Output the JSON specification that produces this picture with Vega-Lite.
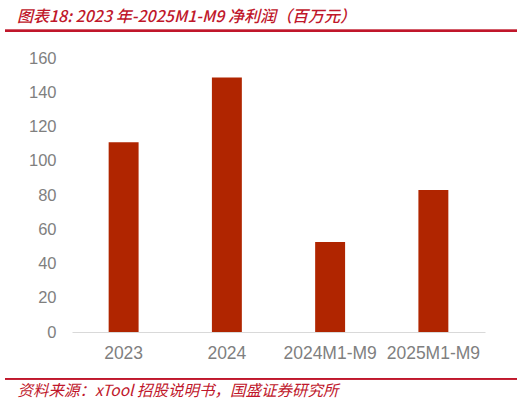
{
  "$schema": "https://vega.github.io/schema/vega-lite/v6.json",
  "width": 413,
  "height": 274,
  "autosize": "none",
  "padding": {"left": 72, "top": 58, "right": 47, "bottom": 72},
  "background": "white",
  "config": {"view": {"stroke": null}},
  "title": {
    "text": "图表18:  2023 年-2025M1-M9 净利润（百万元）",
    "anchor": "start",
    "frame": "group",
    "dx": -55,
    "offset": 5,
    "font": "Noto Sans CJK SC",
    "fontSize": 16,
    "fontStyle": "italic",
    "fontWeight": 500,
    "color": "#C0172B"
  },
  "data": {
    "values": [
      {"period": "2023", "profit": 110.8},
      {"period": "2024", "profit": 148.6},
      {"period": "2024M1-M9", "profit": 52.5},
      {"period": "2025M1-M9", "profit": 82.9}
    ]
  },
  "layer": [
    {
      "mark": {"type": "bar", "color": "#B02500", "width": {"band": 0.29}},
      "encoding": {
        "x": {
          "field": "period",
          "type": "nominal",
          "sort": null,
          "scale": {"paddingInner": 0, "paddingOuter": 0},
          "axis": {
            "labelAngle": 0,
            "labelFont": "Liberation Sans",
            "labelFontSize": 17.5,
            "labelColor": "#7F7F7F",
            "labelPadding": 12,
            "ticks": false,
            "domainColor": "#D9D9D9",
            "domainWidth": 1,
            "title": "资料来源：xTool 招股说明书，国盛证券研究所",
            "titleFont": "Noto Sans CJK SC",
            "titleFontSize": 15.5,
            "titleFontStyle": "italic",
            "titleFontWeight": "normal",
            "titleColor": "#C0172B",
            "titleAnchor": "start",
            "titleAlign": "left",
            "titleBaseline": "middle",
            "titleX": -55,
            "titleY": 58
          }
        },
        "y": {
          "field": "profit",
          "type": "quantitative",
          "scale": {"domain": [0, 160]},
          "axis": {
            "values": [0, 20, 40, 60, 80, 100, 120, 140, 160],
            "labelFont": "Liberation Sans",
            "labelFontSize": 16.5,
            "labelColor": "#7F7F7F",
            "labelPadding": 16,
            "ticks": false,
            "domain": false,
            "grid": false,
            "title": null
          }
        }
      }
    },
    {
      "mark": {"type": "rule", "color": "#C0172B", "strokeWidth": 2},
      "encoding": {
        "x": {"value": -67},
        "x2": {"value": 445},
        "y": {"value": -27.3}
      }
    },
    {
      "mark": {"type": "rule", "color": "#C0172B", "strokeWidth": 1.5},
      "encoding": {
        "x": {"value": -67},
        "x2": {"value": 445},
        "y": {"value": 320.7}
      }
    }
  ]
}
